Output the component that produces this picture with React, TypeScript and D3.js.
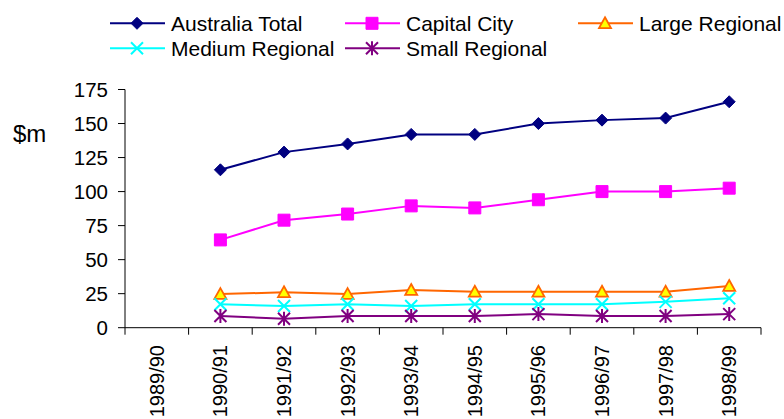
import React from "react";
import * as d3 from "d3";

const categories = [
  "1989/90", "1990/91", "1991/92", "1992/93", "1993/94",
  "1994/95", "1995/96", "1996/97", "1997/98", "1998/99",
];

// $m by financial year; 1989/90 has no figure
const australiaTotal = [null, 116, 129, 135, 142, 142, 150, 152.5, 154, 166];
const capitalCity = [null, 64.5, 79, 83.5, 89.5, 88, 94, 100, 100, 102.5];
const largeRegional = [null, 24.7, 26, 24.7, 27.7, 26.4, 26.4, 26.4, 26.4, 30.6];
const mediumRegional = [null, 17.2, 16, 17.2, 16, 17.2, 17.2, 17.2, 19, 21.6];
const smallRegional = [null, 8.6, 6.6, 8.6, 8.6, 8.6, 10, 8.6, 8.6, 10];

const yTicks = [0, 25, 50, 75, 100, 125, 150, 175];

type Marker = "diamond" | "square" | "triangle" | "x" | "star";

const seriesList: {
  name: string;
  values: (number | null)[];
  color: string;
  fill: string;
  marker: Marker;
}[] = [
  { name: "Australia Total", values: australiaTotal, color: "#000080", fill: "#000080", marker: "diamond" },
  { name: "Capital City", values: capitalCity, color: "#FF00FF", fill: "#FF00FF", marker: "square" },
  { name: "Large Regional", values: largeRegional, color: "#FF6600", fill: "#FFFF00", marker: "triangle" },
  { name: "Medium Regional", values: mediumRegional, color: "#00FFFF", fill: "none", marker: "x" },
  { name: "Small Regional", values: smallRegional, color: "#800080", fill: "none", marker: "star" },
];

const FONT = "'Liberation Sans', Arial, sans-serif";

const plotLeft = 125;
const plotRight = 761;
const plotTop = 89.5;
const plotBottom = 327.7;

const x = d3.scaleBand<string>().domain(categories).range([plotLeft, plotRight]).padding(0);
const y = d3.scaleLinear().domain([0, 175]).range([plotBottom, plotTop]);

function markerPath(m: Marker): string {
  const r = 6;
  switch (m) {
    case "diamond":
      return `M0,${-r}L${r},0L0,${r}L${-r},0Z`;
    case "square":
      return `M${-r},${-r}H${r}V${r}H${-r}Z`;
    case "triangle":
      return `M0,${-r}L${r},${r * 0.8}L${-r},${r * 0.8}Z`;
    case "x":
      return `M${-r},${-r}L${r},${r}M${r},${-r}L${-r},${r}`;
    case "star":
      return `M${-r},${-r}L${r},${r}M${r},${-r}L${-r},${r}M0,${-r - 1}L0,${r + 1}`;
  }
}

function MarkerGlyph({ m, color, fill, cx, cy }: { m: Marker; color: string; fill: string; cx: number; cy: number }) {
  const d = markerPath(m);
  const stroked = m === "x" || m === "star";
  return (
    <path
      d={d}
      transform={`translate(${cx},${cy})`}
      fill={stroked ? "none" : fill}
      stroke={color}
      strokeWidth={stroked ? 2 : m === "triangle" ? 1.8 : 1}
    />
  );
}

const legendItems = [
  { s: 0, lx: 110, rowY: 23.3 },
  { s: 1, lx: 345, rowY: 23.3 },
  { s: 2, lx: 578, rowY: 23.3 },
  { s: 3, lx: 110, rowY: 48.3 },
  { s: 4, lx: 345, rowY: 48.3 },
];

export default function App() {
  const cx = (c: string) => (x(c) ?? 0) + x.bandwidth() / 2;
  const line = d3
    .line<number | null>()
    .defined((v) => v != null)
    .x((_, i) => cx(categories[i]))
    .y((v) => y(v as number));

  return (
    <svg
      width={784}
      height={419}
      style={{ position: "absolute", left: 0, top: 0, background: "#fff" }}
      fontFamily={FONT}
    >
      {/* legend */}
      {legendItems.map(({ s, lx, rowY }) => {
        const ser = seriesList[s];
        return (
          <g key={ser.name}>
            <line x1={lx} x2={lx + 55} y1={rowY} y2={rowY} stroke={ser.color} strokeWidth={2} />
            <MarkerGlyph m={ser.marker} color={ser.color} fill={ser.fill} cx={lx + 27} cy={rowY} />
            <text x={lx + 61} y={rowY} dy="0.35em" fontSize={21} fill="#000">
              {ser.name}
            </text>
          </g>
        );
      })}

      {/* y axis */}
      <text x={13} y={142} fontSize={24} fill="#000">
        $m
      </text>
      <line x1={plotLeft} x2={plotLeft} y1={plotTop} y2={plotBottom} stroke="#000" strokeWidth={1} />
      {yTicks.map((t) => (
        <g key={t}>
          <line x1={plotLeft - 7} x2={plotLeft} y1={y(t)} y2={y(t)} stroke="#000" strokeWidth={1} />
          <text x={108} y={y(t)} dy="0.35em" textAnchor="end" fontSize={20.5} fill="#000">
            {t}
          </text>
        </g>
      ))}

      {/* x axis */}
      <line x1={plotLeft} x2={plotRight} y1={plotBottom} y2={plotBottom} stroke="#000" strokeWidth={1} />
      {[...categories.map((c) => x(c) ?? 0), plotRight].map((tx, i) => (
        <line key={i} x1={tx} x2={tx} y1={plotBottom} y2={plotBottom + 7} stroke="#000" strokeWidth={1} />
      ))}
      {categories.map((c) => (
        <text
          key={c}
          transform={`translate(${cx(c)},345) rotate(-90)`}
          dy="0.35em"
          textAnchor="end"
          fontSize={20}
          fill="#000"
        >
          {c}
        </text>
      ))}

      {/* series */}
      {seriesList.map((ser) => (
        <g key={ser.name}>
          <path d={line(ser.values) ?? ""} fill="none" stroke={ser.color} strokeWidth={2} />
          {ser.values.map((v, i) =>
            v == null ? null : (
              <MarkerGlyph key={i} m={ser.marker} color={ser.color} fill={ser.fill} cx={cx(categories[i])} cy={y(v)} />
            )
          )}
        </g>
      ))}
    </svg>
  );
}
